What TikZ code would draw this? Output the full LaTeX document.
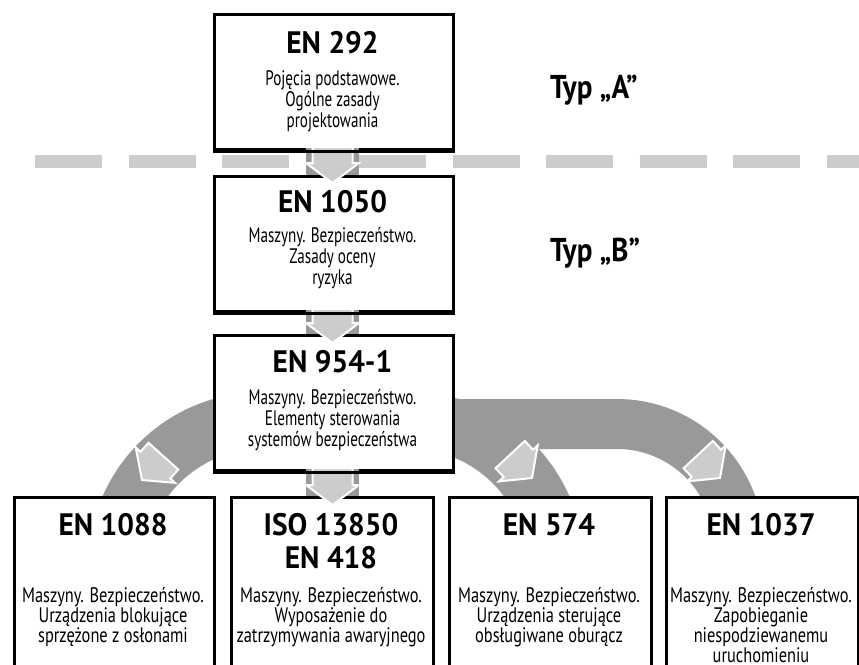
\documentclass[tikz,border=0pt]{standalone}
\usepackage{fontspec}
\setmainfont{PT Sans}
\newfontfamily\bodyfnt[FakeStretch=0.72]{PT Sans}
\newfontfamily\bodylowfnt[FakeStretch=0.78]{PT Sans}
\newfontfamily\headfnt[FakeStretch=0.95]{PT Sans}
\newfontfamily\typfnt[FakeStretch=0.88]{PT Sans}
\definecolor{band}{HTML}{999999}
\definecolor{pale}{HTML}{CCCCCC}
\begin{document}
\begin{tikzpicture}[x=1pt,y=-1pt,
  boxst/.style={draw=black, line width=3pt, fill=white, inner sep=0pt, anchor=north west},
  headst/.style={font=\headfnt\bfseries\fontsize{31}{33}\selectfont, inner sep=0pt, anchor=base},
  bodyst/.style={font=\bodyfnt\fontsize{21}{21}\selectfont, align=center, inner sep=0pt, anchor=north},
  bodylow/.style={font=\bodylowfnt\fontsize{21}{18.3}\selectfont, align=center, inner sep=0pt, text depth=0pt, anchor=north},
  bandst/.style={draw=band, line cap=butt},
  stemst/.style={fill=band},
  edgest/.style={draw=black, line width=3pt},
  arrowst/.style={fill=pale, draw=white, line width=2pt, line join=miter},
  dashst/.style={draw=pale, line width=13pt, dash pattern=on 67pt off 26.5pt},
  typst/.style={font=\typfnt\bfseries\fontsize{33}{35}\selectfont, inner sep=0pt, anchor=base west},
  pics/blockarrow/.style={code={
    \path[arrowst] (0,0) -- (26.5,-20) -- (20,-20) -- (20,{-20-#1})
      -- (-20,{-20-#1}) -- (-20,-20) -- (-26.5,-20) -- cycle;}}
]
\useasboundingbox (0,0) rectangle (859,664);
\clip (0,0) rectangle (859,664);

% boundary between the type A and type B levels
\draw[dashst] (35,161.5) -- (290,161.5);
\draw[dashst] (359,161.5) -- (859,161.5);

% grey bands leading from EN 954-1 to the type C standards
\draw[bandst, line width=57pt] (262,566) ++(200:145.5) arc[start angle=200, end angle=265, radius=145.5];
\draw[bandst, line width=57pt] (410,566) ++(275:145.5) arc[start angle=275, end angle=340, radius=145.5];
\draw[bandst, line width=50pt] (440,424) -- (617,424) arc[start angle=270, end angle=360, radius=122];

% standard boxes
\node[boxst, minimum width=239pt, minimum height=135pt] (b292) at (213,13) {};
\node[boxst, minimum width=239pt, minimum height=135pt] (b1050) at (213,175) {};
\node[boxst, minimum width=239pt, minimum height=135pt] (b954) at (213,334) {};
\node[boxst, minimum width=200pt, minimum height=204pt] (b1088) at (13,496) {};
\node[boxst, minimum width=202pt, minimum height=204pt] (biso) at (230,496) {};
\node[boxst, minimum width=202pt, minimum height=204pt] (b574) at (448,496) {};
\node[boxst, minimum width=192pt, minimum height=204pt] (b1037) at (665,496) {};

% vertical connectors
\path[stemst] (306,148) rectangle (359,175);
\path[stemst] (306,310) rectangle (359,334);
\path[stemst] (306,469) rectangle (359,496);
\pic at (332.5,183) {blockarrow=16};
\pic at (332.5,343) {blockarrow=14};
\pic at (332.5,505) {blockarrow=17};
\draw[edgest] (b292.south west) -- (b292.south east);
\draw[edgest] (b1050.south west) -- (b1050.south east);
\draw[edgest] (b954.south west) -- (b954.south east);

% arrows on the bands
\pic[rotate=-42] at (142,480) {blockarrow=12};
\pic[rotate=43] at (532,478) {blockarrow=12};
\pic[rotate=43] at (720,478) {blockarrow=12};

% level labels
\node[typst] (typA) at (550,98) {Typ „A”};
\node[typst] (typB) at (550,261) {Typ „B”};

% titles
\node[headst] (t292) at (332.5,53) {EN 292};
\node[headst] (t1050) at (332.5,212) {EN 1050};
\node[headst] (t954) at (332.5,372) {EN 954-1};
\node[headst] (t1088) at (113,535) {EN 1088};
\node[headst] (tiso) at (331,535) {ISO 13850};
\node[headst] (t418) at (331,568) {EN 418};
\node[headst] (t574) at (549,535) {EN 574};
\node[headst] (t1037) at (761,535) {EN 1037};

% descriptions
\node[bodyst] (d292) at (332.5,67) {\rule{0pt}{18pt}Pojęcia podstawowe.\\Ogólne zasady\\projektowania};
\node[bodyst] (d1050) at (332.5,224) {\rule{0pt}{18pt}Maszyny. Bezpieczeństwo.\\Zasady oceny\\ryzyka};
\node[bodyst] (d954) at (332.5,386) {\rule{0pt}{18pt}Maszyny. Bezpieczeństwo.\\Elementy sterowania\\systemów bezpieczeństwa};
\node[bodylow] (d1088) at (113,584) {\rule{0pt}{18pt}Maszyny. Bezpieczeństwo.\\Urządzenia blokujące\\sprzężone z osłonami};
\node[bodylow] (diso) at (331,584) {\rule{0pt}{18pt}Maszyny. Bezpieczeństwo.\\Wyposażenie do\\zatrzymywania awaryjnego};
\node[bodylow] (d574) at (549,584) {\rule{0pt}{18pt}Maszyny. Bezpieczeństwo.\\Urządzenia sterujące\\obsługiwane oburącz};
\node[bodylow] (d1037) at (761,584) {\rule{0pt}{18pt}Maszyny. Bezpieczeństwo.\\Zapobieganie\\niespodziewanemu\\uruchomieniu};
\end{tikzpicture}
\end{document}
